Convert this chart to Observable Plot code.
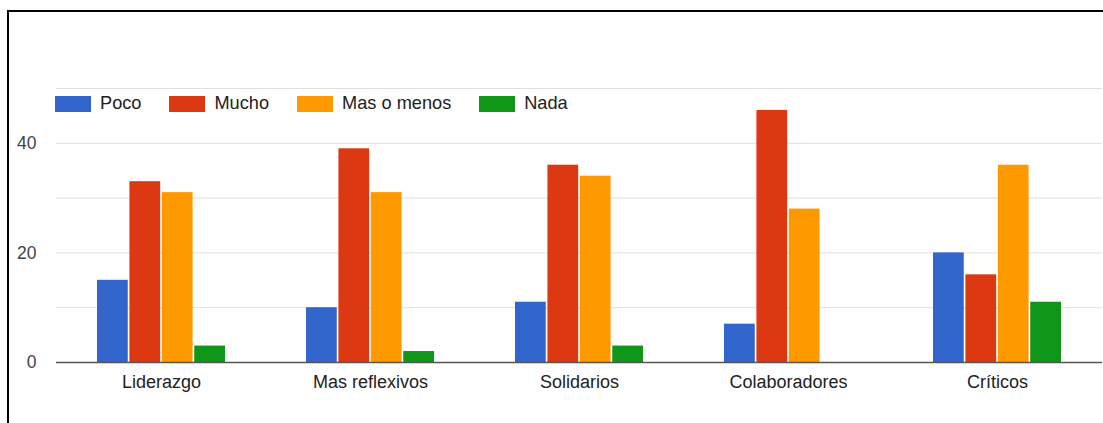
<!DOCTYPE html>
<html>
<head>
<meta charset="utf-8">
<script src="https://cdn.jsdelivr.net/npm/d3@7"></script>
<script src="https://cdn.jsdelivr.net/npm/@observablehq/plot@0.6"></script>
<style>
  html, body { margin: 0; padding: 0; background: #fff; }
  body { font-family: "Liberation Sans", Arial, sans-serif; }
  #wrap { position: relative; width: 1103px; height: 423px; overflow: hidden; }
  #frame { position: absolute; left: 7px; top: 10px; width: 1200px; height: 500px;
           border-left: 2px solid #000; border-top: 2px solid #000; box-sizing: border-box; }
  #chart { position: absolute; left: 0; top: 0; }
  #legend { position: absolute; left: 55px; top: 93px; display: flex; align-items: center; gap: 28px;
            font-size: 18.2px; color: #222; }
  .item { display: flex; align-items: center; }
  .sw { width: 36px; height: 16px; margin-right: 9px; }
</style>
</head>
<body>
<div id="wrap">
  <div id="frame"></div>
  <div id="chart"></div>
  <div id="legend"></div>
</div>
<script>
const categories = ["Liderazgo", "Mas reflexivos", "Solidarios", "Colaboradores", "Críticos"];
const series = ["Poco", "Mucho", "Mas o menos", "Nada"];
const poco = [15, 10, 11, 7, 20];
const mucho = [33, 39, 36, 46, 16];
const masOMenos = [31, 31, 34, 28, 36];
const nada = [3, 2, 3, 0, 11];
const colors = ["#3366cc", "#dc3912", "#ff9900", "#109618"];
const yTickValues = [0, 20, 40];
const gridValues = [10, 20, 30, 40, 50];

const valuesBySeries = [poco, mucho, masOMenos, nada];
const data = [];
series.forEach((s, i) => categories.forEach((c, j) => data.push({cat: c, series: s, value: valuesBySeries[i][j]})));

const W = 1103, H = 423, mL = 56, mR = 1, mT = 88, mB = 61;
const padInner = 0.388, padOuter = 0.194;
const outer = d3.scaleBand(categories, [mL, W - mR]).paddingInner(padInner).paddingOuter(padOuter);
const bw = outer.bandwidth();
const inner = d3.scaleBand(series, [0, bw]).paddingInner(0.05).paddingOuter(0);

const barMarks = series.map((s, i) => Plot.barY(data.filter(d => d.series === s), {
  x: "cat", y: "value", fill: colors[i],
  insetLeft: inner(s), insetRight: bw - inner(s) - inner.bandwidth()
}));

const chart = Plot.plot({
  width: W, height: H,
  marginLeft: mL, marginRight: mR, marginTop: mT, marginBottom: mB,
  style: {fontFamily: '"Liberation Sans", Arial, sans-serif', background: "transparent", overflow: "visible"},
  x: {domain: categories, paddingInner: padInner, paddingOuter: padOuter, label: null},
  y: {domain: [0, 50], label: null},
  marks: [
    Plot.ruleY(gridValues, {stroke: "#dedede", strokeWidth: 1}),
    ...barMarks,
    Plot.ruleY([0], {stroke: "#555", strokeWidth: 1.5}),
    Plot.axisY(yTickValues, {tickSize: 0, tickPadding: 20, fontSize: 17.5, fill: "#444", label: null}),
    Plot.axisX({tickSize: 0, tickPadding: 13, fontSize: 18, fill: "#222", label: null})
  ]
});
document.getElementById("chart").appendChild(chart);

const legend = document.getElementById("legend");
series.forEach((s, i) => {
  const item = document.createElement("div");
  item.className = "item";
  const sw = document.createElement("div");
  sw.className = "sw";
  sw.style.background = colors[i];
  const t = document.createElement("span");
  t.textContent = s;
  item.appendChild(sw); item.appendChild(t);
  legend.appendChild(item);
});
</script>
</body>
</html>
